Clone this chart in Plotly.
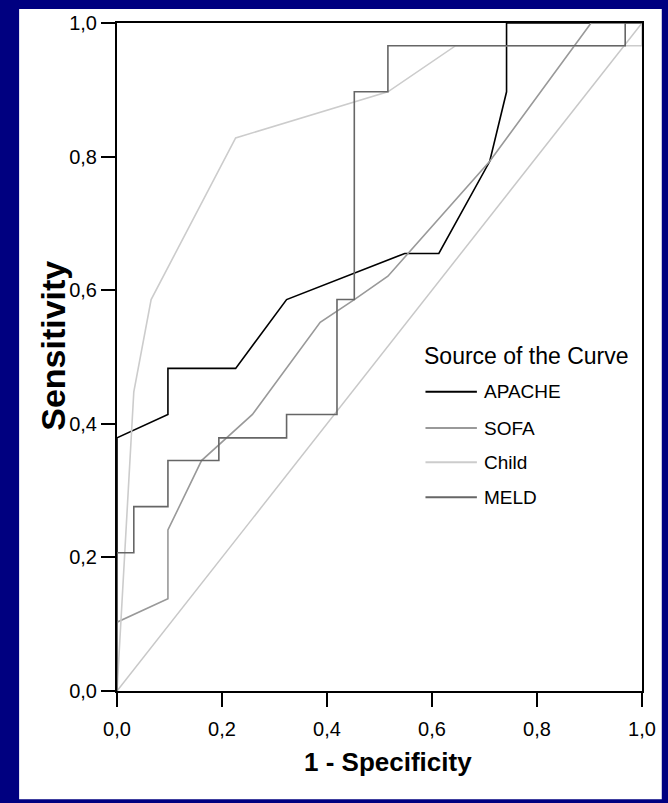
import plotly.graph_objects as go

# ROC curves: x = 1 - specificity, y = sensitivity
apache_x = [0, 0, 0.097, 0.097, 0.226, 0.323, 0.548, 0.613, 0.710, 0.742, 0.742, 1.0]
apache_y = [0, 0.379, 0.414, 0.483, 0.483, 0.586, 0.655, 0.655, 0.793, 0.897, 1.0, 1.0]

sofa_x = [0, 0, 0.097, 0.097, 0.161, 0.258, 0.387, 0.452, 0.516, 0.710, 0.903, 1.0]
sofa_y = [0, 0.103, 0.138, 0.241, 0.345, 0.414, 0.552, 0.586, 0.621, 0.793, 1.0, 1.0]

child_x = [0, 0.032, 0.065, 0.226, 0.516, 0.645, 1.0, 1.0]
child_y = [0, 0.448, 0.586, 0.828, 0.897, 0.966, 0.966, 1.0]

meld_x = [0, 0, 0.032, 0.032, 0.097, 0.097, 0.194, 0.194, 0.323, 0.323,
          0.419, 0.419, 0.452, 0.452, 0.516, 0.516, 0.968, 0.968, 1.0]
meld_y = [0, 0.207, 0.207, 0.276, 0.276, 0.345, 0.345, 0.379, 0.379, 0.414,
          0.414, 0.586, 0.586, 0.897, 0.897, 0.966, 0.966, 1.0, 1.0]

ref_x = [0, 1]
ref_y = [0, 1]

series_names = ["APACHE", "SOFA", "Child", "MELD"]
series_colors = ["#000000", "#999999", "#cccccc", "#666666"]
series_data = [(apache_x, apache_y), (sofa_x, sofa_y), (child_x, child_y), (meld_x, meld_y)]

tick_vals = [0, 0.2, 0.4, 0.6, 0.8, 1.0]
tick_text = ["0,0", "0,2", "0,4", "0,6", "0,8", "1,0"]

W, H = 668, 803
L, R, T, B = 117, 20, 19, 112
PW, PH = W - L - R, H - T - B

def px_x(p):
    return (p - L) / PW

def px_y(p):
    return (H - B - p) / PH

FONT = "Liberation Sans, Arial, sans-serif"

fig = go.Figure()

# chance diagonal
fig.add_trace(go.Scatter(x=ref_x, y=ref_y, mode="lines",
                         line=dict(color="#c8c8c8", width=1.5),
                         showlegend=False, hoverinfo="skip"))

for name, color, (xs, ys) in zip(series_names, series_colors, series_data):
    fig.add_trace(go.Scatter(x=xs, y=ys, mode="lines", name=name,
                             line=dict(color=color, width=1.6),
                             showlegend=False))

axis_common = dict(
    range=[0, 1], showgrid=False, zeroline=False,
    showline=True, linecolor="black", linewidth=2, mirror=True,
    ticks="outside", ticklen=14, tickwidth=2, tickcolor="black",
    tickvals=tick_vals, ticktext=tick_text,
    tickfont=dict(family=FONT, size=20, color="black"),
    layer="below traces", fixedrange=True,
)

shapes = [
    # white panel over the navy page
    dict(type="rect", xref="paper", yref="paper",
         x0=px_x(18), x1=px_x(668), y0=px_y(800), y1=px_y(5),
         fillcolor="white", line=dict(width=0), layer="below"),
]

annotations = [
    dict(text="1 - Specificity", xref="paper", yref="paper",
         x=px_x(391), y=px_y(762), showarrow=False,
         xanchor="center", yanchor="middle",
         font=dict(family=FONT, size=26, color="black", weight="bold")),
    dict(text="Sensitivity", xref="paper", yref="paper",
         x=px_x(52), y=px_y(344), showarrow=False, textangle=-90,
         xanchor="center", yanchor="middle",
         font=dict(family=FONT, size=34, color="black", weight="bold")),
    dict(text="Source of the Curve", xref="paper", yref="paper",
         x=px_x(425), y=px_y(354), showarrow=False,
         xanchor="left", yanchor="middle",
         font=dict(family=FONT, size=23, color="black")),
]

# legend entries
legend_rows = [390, 426.5, 461, 496]
for name, color, row in zip(series_names, series_colors, legend_rows):
    shapes.append(dict(type="line", xref="paper", yref="paper",
                       x0=px_x(429), x1=px_x(481), y0=px_y(row), y1=px_y(row),
                       line=dict(color=color, width=2)))
    annotations.append(dict(text=name, xref="paper", yref="paper",
                            x=px_x(486), y=px_y(row), showarrow=False,
                            xanchor="left", yanchor="middle",
                            font=dict(family=FONT, size=19, color="black")))

fig.update_layout(
    width=W, height=H,
    margin=dict(l=L, r=R, t=T, b=B),
    paper_bgcolor="#000080", plot_bgcolor="white",
    xaxis=dict(axis_common, ticklabelstandoff=5),
    yaxis=axis_common,
    shapes=shapes, annotations=annotations,
    showlegend=False,
)

fig.write_html("out.html", config={"displayModeBar": False})
